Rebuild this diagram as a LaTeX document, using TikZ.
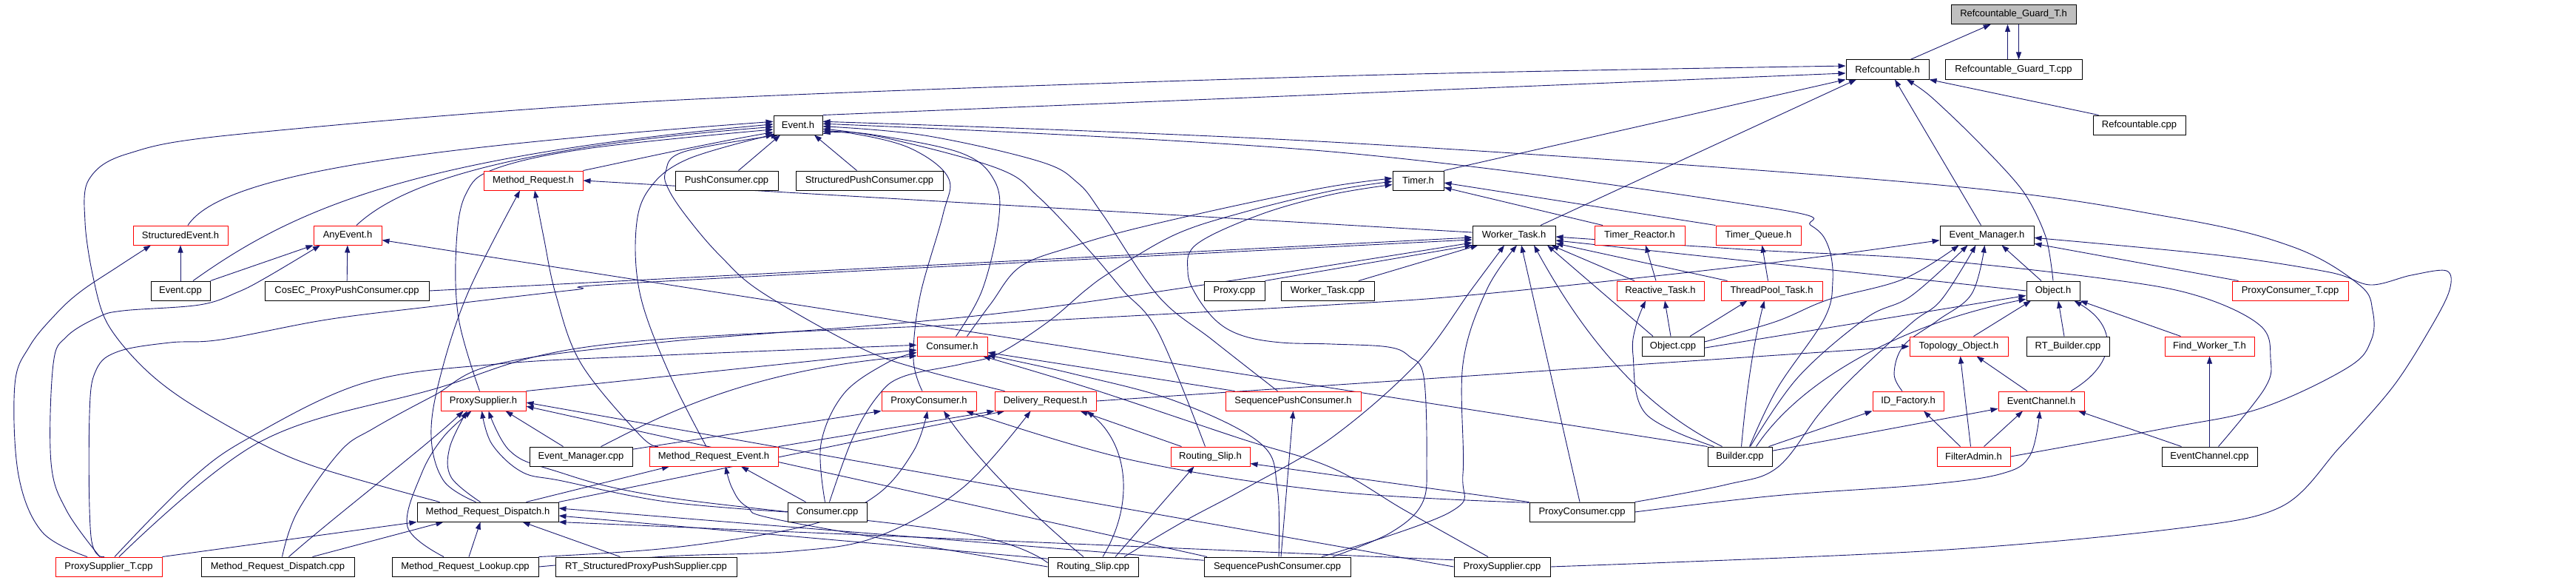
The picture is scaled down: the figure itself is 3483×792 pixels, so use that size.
\documentclass[tikz,border=0pt]{standalone}
\usepackage{fontspec}
\setmainfont{Liberation Sans}
\usetikzlibrary{arrows.meta}
\pgfdeclarelayer{bg}
\pgfsetlayers{bg,main}
\definecolor{edgeblue}{RGB}{25,25,112}
\definecolor{boxgray}{RGB}{191,191,191}
\definecolor{boxred}{RGB}{255,0,0}
\tikzset{
  bx/.style={draw=black, line width=1pt, minimum height=26pt, inner sep=0pt, fill=white,
     font=\fontsize{13}{15}\selectfont},
  rbx/.style={bx, draw=boxred},
  dep/.style={draw=edgeblue, line width=0.9pt, -{Triangle[length=10pt,width=7pt]}},
}
\begin{document}
\begin{tikzpicture}[x=1pt,y=-1pt]
\useasboundingbox (0,0) rectangle (3483,792);
% ---------- nodes ----------
\node[bx, fill=boxgray, minimum width=169pt] (RGh) at (2722.5,19.5) {Refcountable\_Guard\_T.h};
\node[bx, minimum width=112pt] (Rh) at (2552,94) {Refcountable.h};
\node[bx, minimum width=185pt] (RGcpp) at (2722.5,94) {Refcountable\_Guard\_T.cpp};
\node[bx, minimum width=66pt] (Eh) at (1079,169) {Event.h};
\node[bx, minimum width=125pt] (Rcpp) at (2892.5,169) {Refcountable.cpp};
\node[rbx, minimum width=134pt] (MRh) at (721,244) {Method\_Request.h};
\node[bx, minimum width=139pt] (PCcpp) at (982.5,244) {PushConsumer.cpp};
\node[bx, minimum width=199pt] (StPCcpp) at (1175.5,244) {StructuredPushConsumer.cpp};
\node[bx, minimum width=69pt] (Th) at (1917.5,244) {Timer.h};
\node[rbx, minimum width=128pt] (SEh) at (244,318) {StructuredEvent.h};
\node[rbx, minimum width=92pt] (AEh) at (470,318) {AnyEvent.h};
\node[bx, minimum width=112pt] (WTh) at (2047,318) {Worker\_Task.h};
\node[rbx, minimum width=122pt] (TRh) at (2217,318) {Timer\_Reactor.h};
\node[rbx, minimum width=115pt] (TQh) at (2377.5,318) {Timer\_Queue.h};
\node[bx, minimum width=127pt] (EMh) at (2686.5,318) {Event\_Manager.h};
\node[bx, minimum width=80pt] (Ecpp) at (244,393) {Event.cpp};
\node[bx, minimum width=222pt] (CosEC) at (469,393) {CosEC\_ProxyPushConsumer.cpp};
\node[bx, minimum width=82pt] (Proxycpp) at (1669,393) {Proxy.cpp};
\node[bx, minimum width=126pt] (WTcpp) at (1795,393) {Worker\_Task.cpp};
\node[rbx, minimum width=118pt] (RTh) at (2245,393) {Reactive\_Task.h};
\node[rbx, minimum width=137pt] (TPTh) at (2395.5,393) {ThreadPool\_Task.h};
\node[bx, minimum width=72pt] (Oh) at (2776,393) {Object.h};
\node[rbx, minimum width=157pt] (PCTcpp) at (3096.5,393) {ProxyConsumer\_T.cpp};
\node[rbx, minimum width=95pt] (Ch) at (1287.5,468) {Consumer.h};
\node[bx, minimum width=84pt] (Ocpp) at (2262,468) {Object.cpp};
\node[rbx, minimum width=133pt] (TOh) at (2648.5,468) {Topology\_Object.h};
\node[bx, minimum width=112pt] (RTBcpp) at (2796,468) {RT\_Builder.cpp};
\node[rbx, minimum width=121pt] (FWTh) at (2987.5,468) {Find\_Worker\_T.h};
\node[rbx, minimum width=115pt] (PSh) at (653.5,542) {ProxySupplier.h};
\node[rbx, minimum width=128pt] (PCh) at (1256,542) {ProxyConsumer.h};
\node[rbx, minimum width=137pt] (DRh) at (1413.5,542) {Delivery\_Request.h};
\node[rbx, minimum width=183pt] (SqPCh) at (1748.5,542) {SequencePushConsumer.h};
\node[rbx, minimum width=96pt] (IDFh) at (2580,542) {ID\_Factory.h};
\node[rbx, minimum width=116pt] (ECh) at (2760,542) {EventChannel.h};
\node[bx, minimum width=139pt] (EMcpp) at (785.5,617) {Event\_Manager.cpp};
\node[rbx, minimum width=174pt] (MREh) at (965,617) {Method\_Request\_Event.h};
\node[rbx, minimum width=107pt] (RSh) at (1636.5,617) {Routing\_Slip.h};
\node[bx, minimum width=87pt] (Bcpp) at (2352.5,617) {Builder.cpp};
\node[rbx, minimum width=99pt] (FAh) at (2668.5,617) {FilterAdmin.h};
\node[bx, minimum width=129pt] (ECcpp) at (2987.5,617) {EventChannel.cpp};
\node[bx, minimum width=191pt] (MRDh) at (659.5,692) {Method\_Request\_Dispatch.h};
\node[bx, minimum width=107pt] (Ccpp) at (1118.5,692) {Consumer.cpp};
\node[bx, minimum width=142pt] (PCcppB) at (2139,692) {ProxyConsumer.cpp};
\node[rbx, minimum width=144pt] (PSTcpp) at (147,766) {ProxySupplier\_T.cpp};
\node[bx, minimum width=207pt] (MRDcpp) at (375.5,766) {Method\_Request\_Dispatch.cpp};
\node[bx, minimum width=198pt] (MRLcpp) at (629,766) {Method\_Request\_Lookup.cpp};
\node[bx, minimum width=245pt] (RTSPPS) at (873.5,766) {RT\_StructuredProxyPushSupplier.cpp};
\node[bx, minimum width=122pt] (RScpp) at (1478,766) {Routing\_Slip.cpp};
\node[bx, minimum width=198pt] (SqPCcpp) at (1727,766) {SequencePushConsumer.cpp};
\node[bx, minimum width=130pt] (PScpp) at (2031,766) {ProxySupplier.cpp};
% ---------- edges ----------
\begin{pgfonlayer}{bg}
\fill[white] (0,0) rectangle (3483,792);
% top
\draw[dep] (Rh) -- (RGh);
\draw[dep] ([xshift=-8pt]RGcpp.north) -- ([xshift=-8pt]RGh.south);
\draw[dep] ([xshift=7pt]RGh.south) -- ([xshift=7pt]RGcpp.north);
\draw[dep] (Eh.north east) -- (Rh.185);
\draw[dep] plot[smooth, tension=0.55] coordinates {([xshift=-65pt]MRDh.north) (430,632) (344,595) (247,539) (189,492) (144,435) (125,370) (115,300) (120,243) (172,208) (327,181) (900,136) (1800,103) (Rh.175)};
\draw[dep] (Th.north east) -- (Rh.south west);
\draw[dep] ([xshift=36pt]WTh.north) -- ([xshift=-42pt]Rh.south);
\draw[dep] ([xshift=-8pt]EMh.north) -- ([xshift=10pt]Rh.south);
\draw[dep] plot[smooth] coordinates {(Oh.north) (2766,320) (2735,258) (2673,190) (2610,130) ([xshift=26pt]Rh.south)};
\draw[dep] ([xshift=-55pt]Rcpp.north) -- (Rh.south east);
% Event.h from left
\draw[dep] ([xshift=10pt]SEh.north) .. controls (300,235) and (560,200) .. (Eh.172);
\draw[dep] ([xshift=17pt]Ecpp.north) .. controls (400,280) and (560,212) .. (Eh.178);
\draw[dep] ([xshift=12pt]AEh.north) .. controls (540,250) and (680,200) .. (Eh.184);
\draw[dep] plot[smooth, tension=0.6] coordinates {([xshift=-5pt]PSh.north) (620,430) (617,330) (630,262) (670,228) (800,200) (Eh.190)};
\draw[dep] (MRh.north east) .. controls (830,222) and (950,195) .. (Eh.196);
\draw[dep] plot[smooth, tension=0.6] coordinates {([xshift=-10pt]MREh.north) (905,505) (866,400) (860,310) (878,255) (930,215) (Eh.201)};
\draw[dep] plot[smooth, tension=0.6] coordinates {([xshift=-55pt]DRh.north) (1244,499) (1161,469) (1030,395) (975,347) (934,300) (905,258) (900,232) (925,205) ([xshift=7pt]Eh.south west)};
\draw[dep] ([xshift=16pt]PCcpp.north) -- ([xshift=-24pt]Eh.south);
\draw[dep] ([xshift=-17pt]StPCcpp.north) -- ([xshift=22pt]Eh.south);
% Event.h from right
\draw[dep] plot[smooth, tension=0.6] coordinates {([xshift=-9pt]PCh.north) (1235,485) (1244,400) (1275,290) (1282,240) (1230,200) (1150,180) (Eh.-19)};
\draw[dep] plot[smooth, tension=0.6] coordinates {([xshift=5pt]Ch.north) (1328,392) (1350,300) (1345,245) (1300,207) (1180,182) (Eh.-14)};
\draw[dep] plot[smooth, tension=0.6] coordinates {([xshift=-7pt]RSh.north) (1566,449) (1518,392) (1474,340) (1405,267) (1350,228) (1200,187) (Eh.-9)};
\draw[dep] plot[smooth, tension=0.6] coordinates {([xshift=-21pt]SqPCh.north) (1640,460) (1566,400) (1491,290) (1457,247) (1405,218) (1250,183) (Eh.-3)};
\draw[dep] plot[smooth, tension=0.6] coordinates {(FAh.east) (2927,579) (3056,552) (3174,497) (3206,460) (3208,420) (3190,385) (3101,334) (2938,294) (2600,248) (1800,192) (Eh.8)};
\draw[dep] plot[smooth, tension=0.6] coordinates {([xshift=13pt]Bcpp.north) (2403,525) (2466,432) (2478,380) (2472,333) (2449,305) (2386,280) (1800,205) (Eh.3)};
% Method_Request.h
\draw[dep] (WTh.176) -- (MRh.east);
\draw[dep] plot[smooth, tension=0.6] coordinates {([xshift=-16pt]MRDh.north) (600,650) (583,590) (595,510) (633,395) ([xshift=-18pt]MRh.south)};
\draw[dep] plot[smooth, tension=0.6] coordinates {([xshift=-75pt]MREh.north) (865,588) (786,492) (752,400) (735,320) ([xshift=2pt]MRh.south)};
% StructuredEvent.h / AnyEvent.h
\draw[dep] (Ecpp) -- (SEh);
\draw[dep] plot[smooth, tension=0.6] coordinates {([xshift=-29pt]PSTcpp.north) (57,719) (25,642) (20,520) (40,468) (75,425) (109,394) (160,360) ([xshift=-40pt]SEh.south)};
\draw[dep] (Ecpp.north east) -- (AEh.south west);
\draw[dep] (CosEC) -- (AEh);
\draw[dep] plot[smooth, tension=0.6] coordinates {([xshift=-12pt]PSTcpp.north) (90,690) (69,625) (72,492) (90,455) (132,429) (166,420) (270,412) (321,395) (360,375) ([xshift=-37pt]AEh.south)};
\draw[dep] (Bcpp.north west) -- (AEh.-8);
% Timer.h
\draw[dep] ([xshift=-50pt]TRh.north) -- (Th.-15);
\draw[dep] (TQh.north west) -- (Th.-5);
\draw[dep] plot[smooth, tension=0.6] coordinates {([xshift=3pt]Ccpp.north) (1153,592) (1187,535) (1221,509) (1300,492) (1350,478) (1417,435) (1468,392) (1503,367) (1589,317) (1681,287) (1800,258) (Th.182)};
\draw[dep] plot[smooth, tension=0.6] coordinates {([xshift=20pt]Ch.north) (1340,410) (1380,360) (1451,333) (1531,310) (1675,277) (1800,252) (Th.175)};
\draw[dep] plot[smooth, tension=0.6] coordinates {([xshift=75pt]SqPCcpp.north) (1880,720) (1923,680) (1929,620) (1925,509) (1906,482) (1877,469) (1800,465) (1732,463) (1681,454) (1646,435) (1618,400) (1606,367) (1618,330) (1704,290) (1800,263) (Th.189)};
% Worker_Task.h
\draw[dep] (Proxycpp.north east) -- (WTh.south west);
\draw[dep] ([xshift=42pt]WTcpp.north) -- ([xshift=8pt]WTh.south west);
\draw[dep] (CosEC.east) -- (WTh.183);
\draw[dep] plot[smooth, tension=0.6] coordinates {([xshift=-6pt]PSTcpp.north) (123,725) (121,560) (130,500) (160,475) (230,463) (299,459) (442,432) (586,414) (775,392) (900,380) (WTh.186)};
\draw[dep] plot[smooth, tension=0.6] coordinates {([xshift=6pt]MRDcpp.north) (402,692) (460,610) (505,579) (586,535) (672,492) (900,462) (1380,420) (WTh.190)};
\draw[dep] plot[smooth, tension=0.6] coordinates {([xshift=42pt]RScpp.north) (1600,705) (1686,659) (1800,592) (1915,492) (1989,392) ([xshift=-13pt]WTh.south)};
\draw[dep] plot[smooth, tension=0.6] coordinates {([xshift=60pt]SqPCcpp.north) (1961,692) (1978,640) (1978,492) (2010,392) ([xshift=4pt]WTh.south)};
\draw[dep] ([xshift=-3pt]PCcppB.north) -- ([xshift=10pt]WTh.south);
\draw[dep] ([xshift=-24pt]Bcpp.north) .. controls (2230,555) and (2150,470) .. ([xshift=27pt]WTh.south);
\draw[dep] ([xshift=-27pt]Ocpp.north) -- ([xshift=45pt]WTh.south);
\draw[dep] ([xshift=-35pt]RTh.north) -- ([xshift=-6pt]WTh.south east);
\draw[dep] ([xshift=-60pt]TPTh.north) -- (WTh.-11);
\draw[dep] (Oh.west) -- (WTh.-7);
\draw[dep] plot[smooth, tension=0.6] coordinates {([xshift=12pt]ECcpp.north) (3062,525) (3070,485) (3056,440) (2972,400) (2848,377) (2600,350) (2374,338) (WTh.-2)};
% Timer_Reactor / Timer_Queue / Reactive / ThreadPool
\draw[dep] ([xshift=-6pt]RTh.north) -- ([xshift=8pt]TRh.south);
\draw[dep] ([xshift=-5pt]TPTh.north) -- ([xshift=5pt]TQh.south);
\draw[dep] ([xshift=-3pt]Ocpp.north) -- ([xshift=6pt]RTh.south);
\draw[dep] plot[smooth, tension=0.6] coordinates {([xshift=-35pt]Bcpp.north) (2225,559) (2208,480) (2212,440) ([xshift=-20pt]RTh.south)};
\draw[dep] ([xshift=23pt]Ocpp.north) -- ([xshift=-33pt]TPTh.south);
\draw[dep] ([xshift=2pt]Bcpp.north) .. controls (2362,520) and (2372,460) .. ([xshift=-10pt]TPTh.south);
% Event_Manager.h
\draw[dep] plot[smooth, tension=0.55] coordinates {(PScpp.east) (2600,745) (2938,715) (3084,685) (3163,605) (3236,522) (3287,442) (3312,392) (3308,366) (3260,372) (3205,385) (3150,368) (3000,345) (EMh.-3)};
\draw[dep] ([xshift=-70pt]PCTcpp.north) -- (EMh.-10);
\draw[dep] ([xshift=-16pt]Oh.north) -- ([xshift=20pt]EMh.south);
\draw[dep] plot[smooth, tension=0.6] coordinates {(Ocpp.8) (2400,435) (2472,405) (2574,377) ([xshift=-38pt]EMh.south)};
\draw[dep] plot[smooth, tension=0.6] coordinates {([xshift=14pt]Bcpp.north) (2431,510) (2523,430) (2584,400) ([xshift=-26pt]EMh.south)};
\draw[dep] plot[smooth, tension=0.6] coordinates {(PCcppB.north east) (2334,655) (2403,632) (2460,559) (2505,510) (2584,437) (2625,405) ([xshift=-15pt]EMh.south)};
\draw[dep] plot[smooth, tension=0.6] coordinates {([xshift=-8pt]IDFh.north) (2561,505) (2574,467) (2620,433) (2666,397) ([xshift=-3pt]EMh.south)};
\draw[dep] plot[smooth, tension=0.6] coordinates {([xshift=14pt]PSTcpp.north) (350,598) (583,527) (824,465) (1380,435) (1800,412) (2008,397) (2380,357) (EMh.186)};
% Object.h
\draw[dep] (Ocpp.-3) -- (Oh.190);
\draw[dep] ([xshift=22pt]Bcpp.north) .. controls (2430,520) and (2560,440) .. (Oh.197);
\draw[dep] ([xshift=20pt]TOh.north) -- ([xshift=-30pt]Oh.south);
\draw[dep] ([xshift=-5pt]RTBcpp.north) -- ([xshift=7pt]Oh.south);
\draw[dep] ([xshift=40pt]ECh.north) .. controls (2865,490) and (2862,440) .. ([xshift=-8pt]Oh.south east);
\draw[dep] ([xshift=-39pt]FWTh.north) -- (Oh.south east);
\draw[dep] (ECcpp) -- (FWTh);
% Topology_Object.h / ID_Factory.h / EventChannel.h
\draw[dep] (DRh.east) -- (TOh.west);
\draw[dep] ([xshift=-4pt]FAh.north) -- ([xshift=2pt]TOh.south);
\draw[dep] ([xshift=-19pt]ECh.north) -- ([xshift=24pt]TOh.south);
\draw[dep] ([xshift=39pt]Bcpp.north) -- (IDFh.south west);
\draw[dep] ([xshift=-18pt]FAh.north) -- ([xshift=21pt]IDFh.south);
\draw[dep] (Bcpp.10) -- (ECh.190);
\draw[dep] ([xshift=14pt]FAh.north) -- ([xshift=-25pt]ECh.south);
\draw[dep] plot[smooth, tension=0.6] coordinates {(PCcppB.east) (2400,670) (2604,655) (2707,640) (2745,615) ([xshift=-2pt]ECh.south)};
\draw[dep] ([xshift=-38pt]ECcpp.north) -- ([xshift=50pt]ECh.south);
% Consumer.h
\draw[dep] (PSh.north east) -- (Ch.186);
\draw[dep] plot[smooth, tension=0.6] coordinates {([xshift=8pt]PSTcpp.north) (258,648) (340,590) (494,517) (672,492) (900,480) (Ch.178)};
\draw[dep] ([xshift=27pt]EMcpp.north) .. controls (880,570) and (1000,500) .. (Ch.195);
\draw[dep] ([xshift=-79pt]SqPCh.north) -- (Ch.-10);
\draw[dep] plot[smooth, tension=0.6] coordinates {([xshift=2pt]SqPCcpp.north) (1727,659) (1704,599) (1589,542) (1450,505) (Ch.-14)};
\draw[dep] plot[smooth, tension=0.6] coordinates {([xshift=-19pt]PScpp.north) (1900,690) (1800,632) (1675,592) (1474,525) (Ch.-18)};
\draw[dep] plot[smooth, tension=0.6] coordinates {([xshift=-3pt]Ccpp.north) (1110,600) (1141,532) (1200,490) (Ch.190)};
% ProxySupplier.h
\draw[dep] plot[smooth, tension=0.6] coordinates {([xshift=-10pt]MRDh.north) (610,645) (608,605) ([xshift=-22pt]PSh.south)};
\draw[dep] ([xshift=15pt]MRDcpp.north) .. controls (450,700) and (580,600) .. ([xshift=-27pt]PSh.south);
\draw[dep] plot[smooth, tension=0.6] coordinates {([xshift=-29pt]MRLcpp.north) (551,712) (570,640) (600,590) ([xshift=-16pt]PSh.south)};
\draw[dep] ([xshift=-24pt]EMcpp.north) -- ([xshift=30pt]PSh.south);
\draw[dep] plot[smooth, tension=0.6] coordinates {(Ccpp.west) (900,678) (760,650) (706,638) (665,600) ([xshift=-2pt]PSh.south)};
\draw[dep] plot[smooth, tension=0.6] coordinates {(RScpp.175) (1300,720) (900,672) (746,635) (689,609) ([xshift=7pt]PSh.south)};
\draw[dep] (PScpp.west) -- (PSh.-2);
\draw[dep] ([xshift=-95pt]SqPCcpp.north) -- (PSh.-7);
% ProxyConsumer.h
\draw[dep] (EMcpp.8) -- (PCh.south west);
\draw[dep] plot[smooth, tension=0.6] coordinates {(MRLcpp.north east) (911,740) (1093,710) (1184,670) (1235,610) ([xshift=-2pt]PCh.south)};
\draw[dep] ([xshift=-13pt]RScpp.north) .. controls (1400,700) and (1320,620) .. ([xshift=20pt]PCh.south);
\draw[dep] plot[smooth, tension=0.6] coordinates {(PCcppB.170) (1800,664) (1531,622) ([xshift=50pt]PCh.south)};
% Delivery_Request.h
\draw[dep] (MREh.north east) -- (DRh.south west);
\draw[dep] (MRDh.north east) -- ([xshift=-55pt]DRh.south);
\draw[dep] plot[smooth, tension=0.6] coordinates {(MRLcpp.east) (900,752) (1072,745) (1187,725) (1302,659) ([xshift=-20pt]DRh.south)};
\draw[dep] ([xshift=-39pt]RSh.north) -- ([xshift=47pt]DRh.south);
\draw[dep] ([xshift=13pt]RScpp.north) .. controls (1535,680) and (1525,600) .. ([xshift=56pt]DRh.south);
% Routing_Slip.h / SequencePushConsumer.h / Method_Request_Event.h
\draw[dep] ([xshift=30pt]RScpp.north) -- ([xshift=-22pt]RSh.south);
\draw[dep] (PCcppB.north west) -- (RSh.-10);
\draw[dep] ([xshift=5pt]SqPCcpp.north) -- (SqPCh.south);
\draw[dep] ([xshift=52pt]MRDh.north) -- ([xshift=-60pt]MREh.south);
\draw[dep] ([xshift=-29pt]Ccpp.north) -- ([xshift=37pt]MREh.south);
\draw[dep] plot[smooth, tension=0.6] coordinates {(RScpp.west) (1065,705) (1010,685) (990,660) ([xshift=16pt]MREh.south)};
% Method_Request_Dispatch.h
\draw[dep] (PSTcpp.north east) -- (MRDh.south west);
\draw[dep] ([xshift=47pt]MRDcpp.north) -- ([xshift=-60pt]MRDh.south);
\draw[dep] ([xshift=5pt]MRLcpp.north) -- ([xshift=-10pt]MRDh.south);
\draw[dep] ([xshift=-35pt]RTSPPS.north) -- ([xshift=47pt]MRDh.south);
\draw[dep] (RScpp.170) -- (MRDh.-3);
\draw[dep] (SqPCcpp.175) -- (MRDh.3);
\draw[dep] (PScpp.172) -- (MRDh.-8);
\end{pgfonlayer}
\end{tikzpicture}
\end{document}
